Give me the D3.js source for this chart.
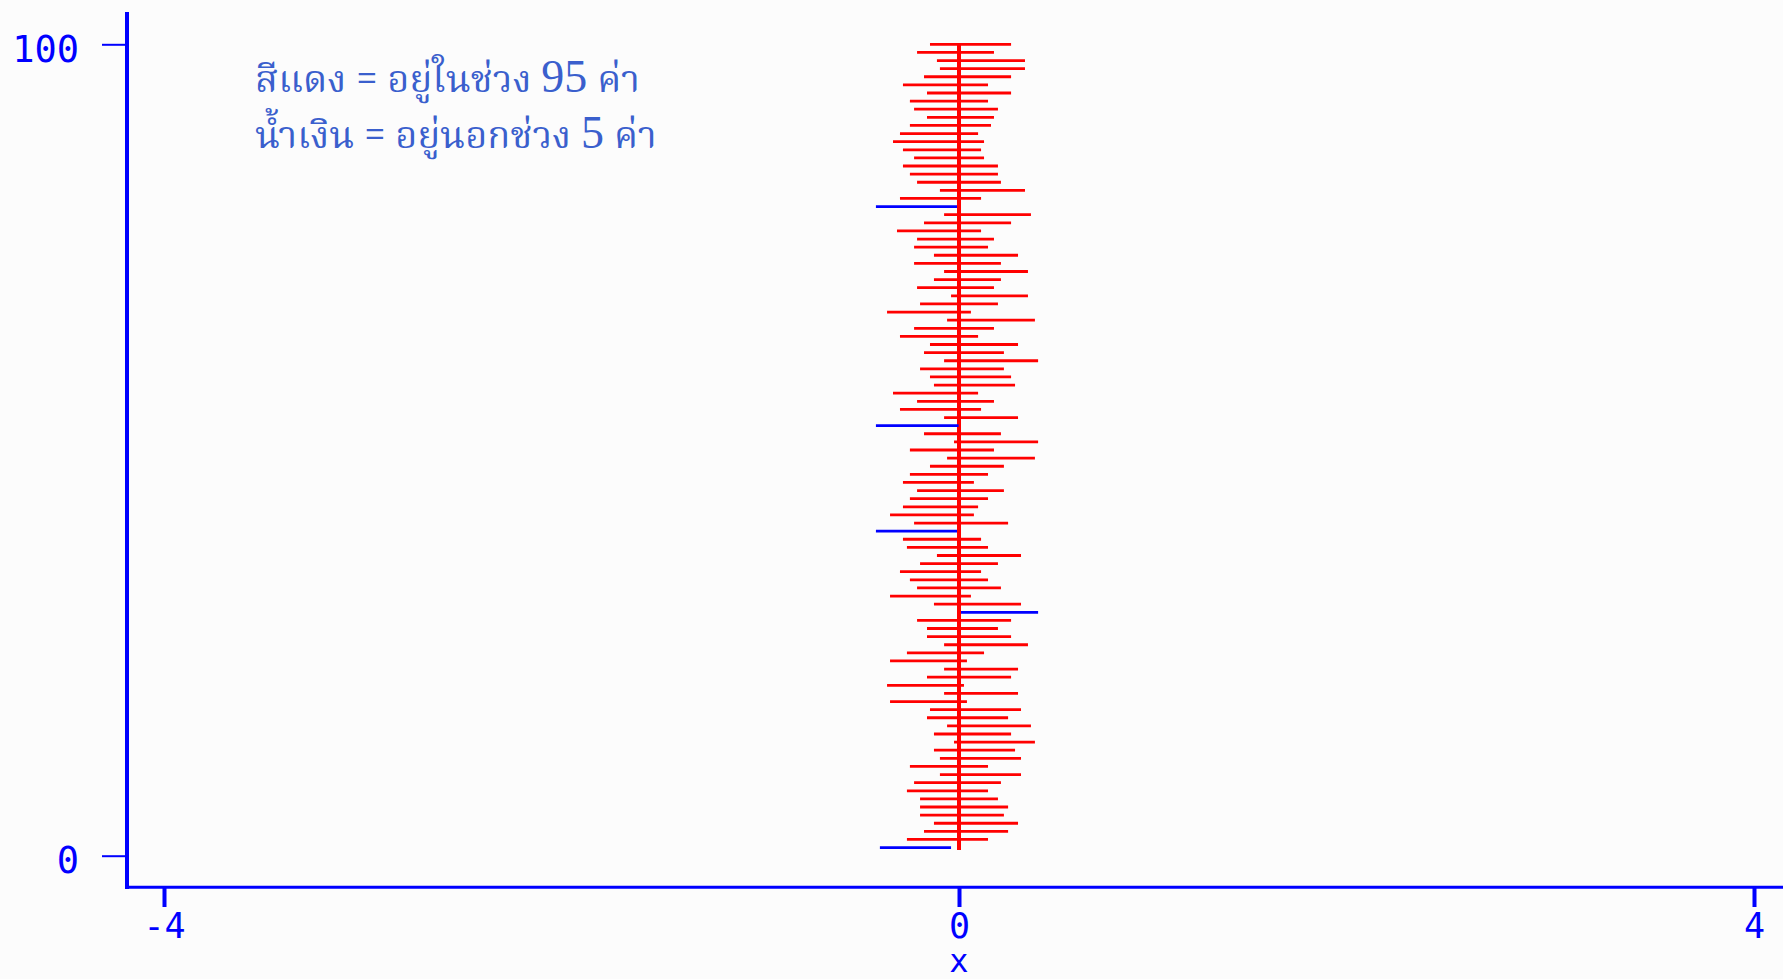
<!DOCTYPE html>
<html>
<head>
<meta charset="utf-8">
<script src="https://cdn.jsdelivr.net/npm/d3@7"></script>
<style>
  html, body { margin: 0; padding: 0; background: #fcfcfc; }
  svg { display: block; }
</style>
</head>
<body>
<div id="chart"></div>
<script>
// sample index (1..100)
const sampleIndex = d3.range(1, 101);
// lower confidence limits, sample 1..100
const lowerLimits = [
  -0.398, -0.262, -0.176, -0.126, -0.196, -0.196, -0.196, -0.262, -0.226, -0.096,
  -0.247, -0.096, -0.126, -0.025, -0.126, -0.060, -0.161, -0.146, -0.347, -0.075,
  -0.362, -0.161, -0.075, -0.347, -0.262, -0.075, -0.161, -0.161, -0.211,  0.010,
  -0.126, -0.347, -0.211, -0.247, -0.297, -0.196, -0.111, -0.262, -0.282, -0.418,
  -0.226, -0.347, -0.282, -0.247, -0.211, -0.282, -0.247, -0.146, -0.060, -0.247,
  -0.025, -0.176, -0.418, -0.075, -0.297, -0.211, -0.332, -0.126, -0.146, -0.196,
  -0.075, -0.176, -0.146, -0.297, -0.226, -0.060, -0.362, -0.196, -0.040, -0.211,
  -0.126, -0.075, -0.226, -0.126, -0.226, -0.211, -0.312, -0.176, -0.075, -0.418,
  -0.297, -0.096, -0.211, -0.247, -0.282, -0.226, -0.282, -0.332, -0.297, -0.247,
  -0.161, -0.226, -0.247, -0.161, -0.282, -0.176, -0.096, -0.111, -0.211, -0.146
];
// upper confidence limits, sample 1..100
const upperLimits = [
  -0.040,  0.146,  0.247,  0.297,  0.226,  0.247,  0.196,  0.146,  0.211,  0.312,
   0.146,  0.312,  0.282,  0.382,  0.262,  0.362,  0.247,  0.312,  0.040,  0.297,
   0.025,  0.262,  0.297,  0.040,  0.126,  0.347,  0.262,  0.196,  0.262,  0.398,
   0.312,  0.060,  0.211,  0.146,  0.111,  0.196,  0.312,  0.146,  0.111, -0.010,
   0.247,  0.075,  0.096,  0.146,  0.226,  0.075,  0.146,  0.226,  0.382,  0.176,
   0.398,  0.211, -0.002,  0.297,  0.111,  0.176,  0.096,  0.282,  0.262,  0.226,
   0.398,  0.226,  0.297,  0.096,  0.176,  0.382,  0.060,  0.196,  0.347,  0.176,
   0.211,  0.347,  0.211,  0.297,  0.146,  0.176,  0.111,  0.262,  0.362, -0.010,
   0.111,  0.332,  0.211,  0.196,  0.196,  0.126,  0.111,  0.126,  0.096,  0.161,
   0.176,  0.196,  0.146,  0.262,  0.146,  0.262,  0.332,  0.332,  0.176,  0.262
];
const trueMean = 0;
const xTicks = [-4, 0, 4];
const yTicks = [0, 100];
const legendLines = [
  ["สีแดง = อยู่ในช่วง ", "95", " ค่า"],
  ["น้ำเงิน = อยู่นอกช่วง ", "5", " ค่า"]
];
const xLabel = "x";

const W = 1783, H = 979;
const svg = d3.select("#chart").append("svg").attr("width", W).attr("height", H);
svg.append("rect").attr("width", W).attr("height", H).attr("fill", "#fcfcfc");

const x = d3.scaleLinear().domain([-4, 4]).range([164, 1754]);
const y = d3.scaleLinear().domain([0, 100]).range([855.7, 44.3]);

const axisColor = "#0000ff";
const tickFont = "'DejaVu Sans Mono', 'Liberation Mono', monospace";

// axis lines
svg.append("line").attr("x1", 127).attr("x2", 127).attr("y1", 12).attr("y2", 889)
  .attr("stroke", axisColor).attr("stroke-width", 4);
svg.append("line").attr("x1", 125).attr("x2", W).attr("y1", 887.3).attr("y2", 887.3)
  .attr("stroke", axisColor).attr("stroke-width", 3);

// y axis ticks
const gy = svg.append("g").attr("transform", "translate(127,0)")
  .call(d3.axisLeft(y).tickValues(yTicks).tickSize(25).tickFormat(d3.format("d")));
gy.select(".domain").remove();
gy.selectAll(".tick line").attr("stroke", axisColor).attr("stroke-width", 2);
gy.selectAll(".tick text").attr("fill", axisColor).attr("x", -48).attr("dy", 0).attr("y", 17)
  .attr("text-anchor", "end").style("font-family", tickFont).style("font-size", "37px");

// x axis ticks
const gx = svg.append("g").attr("transform", "translate(0,887)")
  .call(d3.axisBottom(x).tickValues(xTicks).tickSize(20).tickFormat(d3.format("d")));
gx.select(".domain").remove();
gx.selectAll(".tick line").attr("stroke", axisColor).attr("stroke-width", 4);
gx.selectAll(".tick text").attr("fill", axisColor).attr("y", 51).attr("dy", 0)
  .attr("text-anchor", "middle").style("font-family", tickFont).style("font-size", "35px")
  .text(d => d < 0 ? "-" + Math.abs(d) : String(d));

svg.append("text").attr("x", x(0)).attr("y", 972).attr("text-anchor", "middle")
  .attr("fill", axisColor).style("font-family", tickFont).style("font-size", "32px").text(xLabel);

// true mean line
svg.append("line").attr("x1", x(trueMean)).attr("x2", x(trueMean))
  .attr("y1", y(0.7)).attr("y2", y(100))
  .attr("stroke", "#ff0000").attr("stroke-width", 4);

// intervals
const data = sampleIndex.map((i, k) => ({ i, lo: lowerLimits[k], hi: upperLimits[k] }));
svg.append("g").selectAll("line").data(data).join("line")
  .attr("x1", d => x(d.lo)).attr("x2", d => x(d.hi))
  .attr("y1", d => y(d.i)).attr("y2", d => y(d.i))
  .attr("stroke", d => (d.lo > trueMean || d.hi < trueMean) ? "#0000ff" : "#ff0000")
  .attr("stroke-width", 2.8);

// legend text
const thaiFont = "'Noto Serif Thai', 'FreeSerif', 'Kinnari', 'Norasi', 'Laksaman', 'Noto Sans Thai', 'Garuda', 'Loma', serif";
const lt = svg.append("g");
legendLines.forEach((parts, k) => {
  const t = lt.append("text").attr("x", 255).attr("y", 92 + k * 56)
    .attr("fill", "#3a5fcd").style("font-family", thaiFont).style("font-size", "38px");
  t.append("tspan").text(parts[0]);
  t.append("tspan").attr("font-family", "Liberation Serif").style("font-family", "'Liberation Serif', 'Times New Roman', serif")
    .style("font-size", "46px").text(parts[1]);
  t.append("tspan").text(parts[2]);
});
</script>
</body>
</html>
